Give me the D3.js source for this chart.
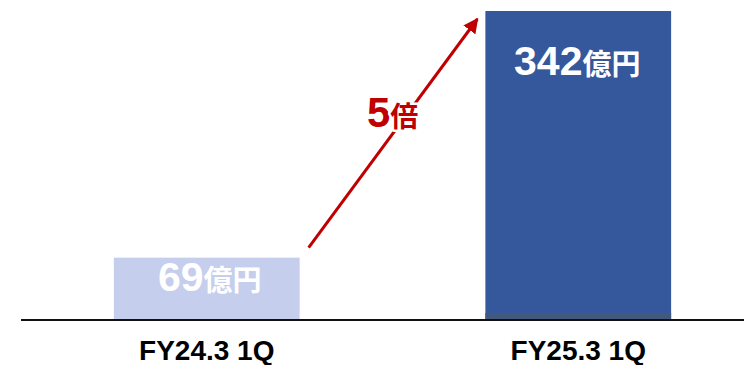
<!DOCTYPE html>
<html>
<head>
<meta charset="utf-8">
<script src="https://cdn.jsdelivr.net/npm/d3@7"></script>
<style>
  html, body { margin: 0; padding: 0; background: #fff; }
  svg { display: block; }
  .num { font-family: "Liberation Sans", Arial, sans-serif; font-weight: 700; }
  .cjk { font-family: "Noto Sans CJK JP", sans-serif; font-weight: 700; }
</style>
</head>
<body>
<svg id="chart" width="744" height="365"></svg>
<script>
// Quarterly figures (億円)
const categories = ["FY24.3 1Q", "FY25.3 1Q"];
const values = [69, 342];
const barColors = ["#C5CEEC", "#35579C"];
const valueUnit = "億円";
const ratioUnit = "倍";

const svg = d3.select("#chart");
const W = 744, H = 365;
const baseY = 320;

const x = d3.scaleBand()
  .domain(categories)
  .range([21, 764])
  .paddingInner(0.5)
  .paddingOuter(0.25);

const y = d3.scaleLinear()
  .domain([0, 342])
  .range([baseY, 11]);

// Bars
svg.selectAll("rect.bar")
  .data(values)
  .join("rect")
  .attr("class", "bar")
  .attr("x", (d, i) => x(categories[i]))
  .attr("width", x.bandwidth())
  .attr("y", d => y(d))
  .attr("height", d => y(0) - y(d))
  .attr("fill", (d, i) => barColors[i]);

// Slight shading at the foot of the larger bar
svg.append("rect")
  .attr("x", x(categories[1]))
  .attr("width", x.bandwidth())
  .attr("y", y(0) - 7)
  .attr("height", 7)
  .attr("fill", "#42587C");

// Baseline
svg.append("line")
  .attr("x1", 21).attr("x2", W)
  .attr("y1", baseY).attr("y2", baseY)
  .attr("stroke", "#111")
  .attr("stroke-width", 2);

// Category labels
const axis = d3.axisBottom(x).tickSize(0).tickPadding(0);
const gAxis = svg.append("g")
  .attr("transform", `translate(0,${baseY})`)
  .call(axis);
gAxis.select(".domain").remove();
gAxis.selectAll("text")
  .attr("dy", null)
  .attr("y", 40)
  .attr("fill", "#000")
  .style("font-size", "28px")
  .style("font-family", "'Liberation Sans', Arial, sans-serif")
  .style("font-weight", 700);

// Value labels inside bars
const labelOffsets = [33, 64];
const labelShift = [3, -1];
values.forEach((v, i) => {
  const t = svg.append("text")
    .attr("x", x(categories[i]) + x.bandwidth() / 2 + labelShift[i])
    .attr("y", y(v) + labelOffsets[i])
    .attr("text-anchor", "middle")
    .attr("fill", "#fff");
  t.append("tspan").attr("class", "num").attr("font-size", 41).text(v);
  t.append("tspan").attr("class", "cjk").attr("font-size", 29).text(valueUnit);
});

// Growth arrow between the bars
const defs = svg.append("defs");
defs.append("marker")
  .attr("id", "head")
  .attr("viewBox", "0 0 10 10")
  .attr("refX", 9).attr("refY", 5)
  .attr("markerWidth", 5).attr("markerHeight", 5)
  .attr("markerUnits", "strokeWidth")
  .attr("orient", "auto")
  .append("path")
  .attr("d", "M0,0 L10,5 L0,10 Z")
  .attr("fill", "#C00000");

const x0 = x(categories[0]) + x.bandwidth() + 9;
const y0 = y(values[0]) - 10;
const x1 = x(categories[1]) - 8;
const y1 = y(values[1]) + 8;
svg.append("line")
  .attr("x1", x0).attr("y1", y0)
  .attr("x2", x1).attr("y2", y1)
  .attr("stroke", "#C00000")
  .attr("stroke-width", 3)
  .attr("marker-end", "url(#head)");

// Ratio label over the arrow
const ratio = Math.round(values[1] / values[0]);
const rt = svg.append("text")
  .attr("x", 367)
  .attr("y", 127)
  .attr("fill", "#C00000")
  .attr("stroke", "#fff")
  .attr("stroke-width", 5)
  .attr("stroke-linejoin", "round")
  .style("paint-order", "stroke");
rt.append("tspan").attr("class", "num").attr("font-size", 42).text(ratio);
rt.append("tspan").attr("class", "cjk").attr("font-size", 28).text(ratioUnit);
</script>
</body>
</html>
